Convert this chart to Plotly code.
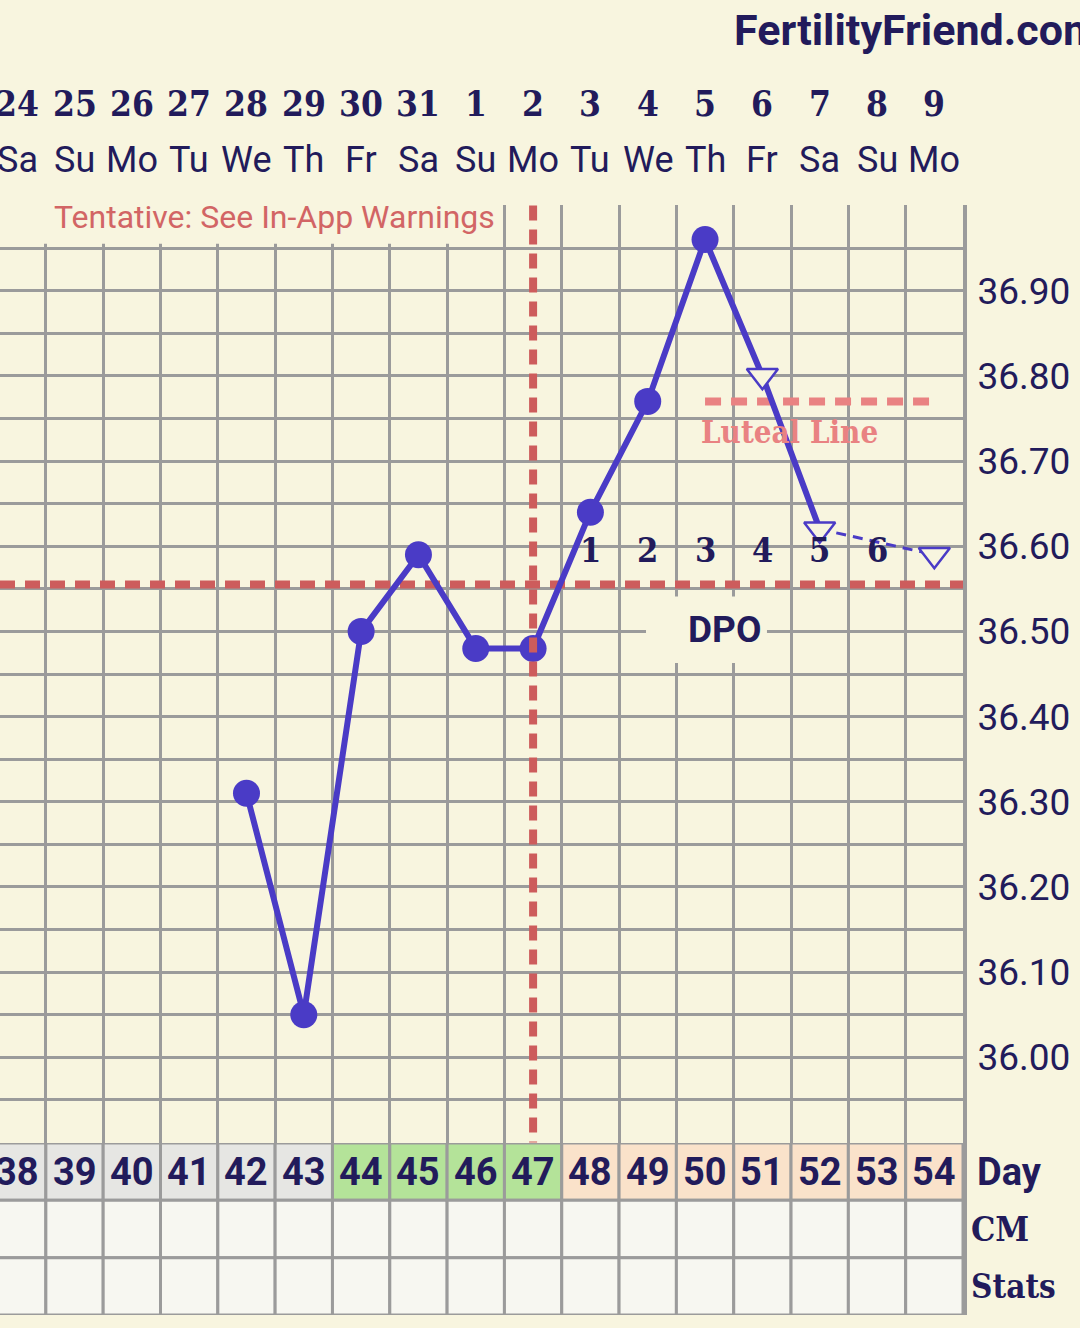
import plotly.graph_objects as go

# ---------------- data ----------------
cycle_days = [38, 39, 40, 41, 42, 43, 44, 45, 46, 47, 48, 49, 50, 51, 52, 53, 54]
dates = ["24", "25", "26", "27", "28", "29", "30", "31", "1", "2", "3", "4", "5", "6", "7", "8", "9"]
weekdays = ["Sa", "Su", "Mo", "Tu", "We", "Th", "Fr", "Sa", "Su", "Mo", "Tu", "We", "Th", "Fr", "Sa", "Su", "Mo"]
day_phase = ["none"] * 6 + ["fertile"] * 4 + ["luteal"] * 7

solid_days = [42, 43, 44, 45, 46, 47, 48, 49, 50]
solid_temps = [36.31, 36.05, 36.50, 36.59, 36.48, 36.48, 36.64, 36.77, 36.96]
open_days = [51, 52, 54]
open_temps = [36.80, 36.62, 36.59]

coverline_temp = 36.555
ovulation_day = 47
luteal_temp = 36.77
luteal_days = [50, 54]
dpo_days = [48, 49, 50, 51, 52, 53]
dpo_labels = ["1", "2", "3", "4", "5", "6"]

y_label_vals = [36.0, 36.1, 36.2, 36.3, 36.4, 36.5, 36.6, 36.7, 36.8, 36.9]
y_label_text = ["36.00", "36.10", "36.20", "36.30", "36.40", "36.50", "36.60", "36.70", "36.80", "36.90"]
table_rows = ["Day", "CM", "Stats"]

# ---------------- style ----------------
BG = "#f8f5df"
NAVY = "#221b5b"
BLUE = "#4a3bc6"
GRID = "#9b9b9b"
RED = "#cd5c5c"
SALMON = "#e98282"
PHASE_COL = {"none": "#e6e6e3", "fertile": "#b4e399", "luteal": "#fae2ca"}
CELL = "#f7f7f1"
SLAB = "DejaVu Serif Condensed, DejaVu Serif, serif"

X_LEFT, X_RIGHT = 37.70, 54.5
Y_BOT, Y_TOP = 35.8995, 37.0005

# grid values every 0.05
y_grid_vals = [round(35.90 + 0.05 * i, 2) for i in range(23)]
y_grid_text = []
for v in y_grid_vals:
    t = ""
    for lv, lt in zip(y_label_vals, y_label_text):
        if abs(lv - v) < 1e-6:
            t = lt
    y_grid_text.append(t)

fig = go.Figure()

# coverline (under data)
fig.add_trace(go.Scatter(x=[X_LEFT, X_RIGHT], y=[coverline_temp, coverline_temp], mode="lines",
                         line=dict(color=RED, width=8, dash="15px,10px"), hoverinfo="skip", showlegend=False))
# luteal line
fig.add_trace(go.Scatter(x=luteal_days, y=[luteal_temp, luteal_temp], mode="lines",
                         line=dict(color=SALMON, width=8, dash="16px,10px"), hoverinfo="skip", showlegend=False))
# solid temperature line (42 -> 52)
line_x = solid_days + open_days[:2]
line_y = solid_temps + open_temps[:2]
fig.add_trace(go.Scatter(x=line_x, y=line_y, mode="lines", line=dict(color=BLUE, width=6),
                         hoverinfo="skip", showlegend=False))
# dashed gap line (52 -> 54)
fig.add_trace(go.Scatter(x=open_days[1:], y=open_temps[1:], mode="lines",
                         line=dict(color=BLUE, width=3, dash="10px,7px"), hoverinfo="skip", showlegend=False))
# filled circles
fig.add_trace(go.Scatter(x=solid_days, y=solid_temps, mode="markers",
                         marker=dict(color=BLUE, size=27, line=dict(width=0)), showlegend=False))
# open triangles
fig.add_trace(go.Scatter(x=open_days, y=open_temps, mode="markers",
                         marker=dict(symbol="triangle-down", color=BG, size=27,
                                     line=dict(color=BLUE, width=2.5)), showlegend=False))
# ovulation vertical line (drawn on top)
fig.add_trace(go.Scatter(x=[ovulation_day, ovulation_day], y=[37.0, 35.90], mode="lines",
                         line=dict(color=RED, width=8, dash="15px,9px"), hoverinfo="skip", showlegend=False))

shapes = []
# cover area behind "Tentative" text (hides grid there)
shapes.append(dict(type="rect", xref="x", yref="y", x0=X_LEFT - 1, x1=46.45, y0=36.955, y1=37.05,
                   fillcolor=BG, line=dict(width=0), layer="above"))
# DPO box
shapes.append(dict(type="rect", xref="x", yref="y", x0=48.97, x1=51.08, y0=36.463, y1=36.541,
                   fillcolor=BG, line=dict(width=0), layer="above"))
# table cells
for i, d in enumerate(cycle_days):
    for r in range(len(table_rows)):
        fill = PHASE_COL[day_phase[i]] if r == 0 else CELL
        shapes.append(dict(type="rect", xref="x", yref="y2", x0=d - 0.5, x1=d + 0.5, y0=r, y1=r + 1,
                           fillcolor=fill, line=dict(color=GRID, width=3), layer="above"))

ann = []
# header: brand
ann.append(dict(xref="paper", yref="paper", x=0.7600, y=1.158, xanchor="left", yanchor="middle",
                text="<b>FertilityFriend.com</b>", showarrow=False,
                font=dict(family="Roboto", size=43, color=NAVY)))
for d, dt, wd in zip(cycle_days, dates, weekdays):
    ann.append(dict(xref="x", yref="paper", x=d, y=1.091, text="<b>%s</b>" % dt, showarrow=False,
                    xanchor="center", yanchor="middle", font=dict(family=SLAB, size=35, color=NAVY)))
    ann.append(dict(xref="x", yref="paper", x=d, y=1.0405, text=wd, showarrow=False,
                    xanchor="center", yanchor="middle", font=dict(family="Roboto", size=36, color=NAVY)))
# tentative
ann.append(dict(xref="x", yref="y", x=46.37, y=36.987, xanchor="right", yanchor="middle",
                text="Tentative: See In-App Warnings", showarrow=False,
                font=dict(family="Roboto", size=32, color="#d26565")))
# luteal label
ann.append(dict(xref="x", yref="y", x=51.48, y=36.734, text="<b>Luteal Line</b>", showarrow=False,
                xanchor="center", yanchor="middle", font=dict(family=SLAB, size=31, color=SALMON)))
# DPO numbers
for d, lab in zip(dpo_days, dpo_labels):
    ann.append(dict(xref="x", yref="y", x=d, y=36.595, text="<b>%s</b>" % lab, showarrow=False,
                    xanchor="center", yanchor="middle", font=dict(family=SLAB, size=34, color=NAVY)))
ann.append(dict(xref="x", yref="y", x=50.34, y=36.502, text="<b>DPO</b>", showarrow=False,
                xanchor="center", yanchor="middle", font=dict(family="Roboto", size=37, color=NAVY)))
# table day numbers
for d in cycle_days:
    ann.append(dict(xref="x", yref="y2", x=d, y=0.5, text="<b>%d</b>" % d, showarrow=False,
                    xanchor="center", yanchor="middle",
                    font=dict(family="Roboto", size=38, color=NAVY)))
# row labels
row_fonts = [("Roboto", 38, 1.0125), (SLAB, 34, 1.0063), (SLAB, 33, 1.0063)]
for r, (lab, (fam, sz, xp)) in enumerate(zip(table_rows, row_fonts)):
    ann.append(dict(xref="paper", yref="y2", x=xp, y=r + 0.5, text="<b>%s</b>" % lab, showarrow=False,
                    xanchor="left", yanchor="middle", font=dict(family=fam, size=sz, color=NAVY)))

fig.update_layout(
    width=1080, height=1328,
    margin=dict(l=0, r=117, t=205, b=13, pad=0),
    paper_bgcolor=BG, plot_bgcolor=BG,
    showlegend=False,
    shapes=shapes, annotations=ann,
    xaxis=dict(range=[X_LEFT, X_RIGHT], tickmode="linear", tick0=37.5, dtick=1,
               showgrid=True, gridcolor=GRID, gridwidth=3, showticklabels=False, ticks="",
               zeroline=False, showline=False, anchor="y", fixedrange=True),
    yaxis=dict(range=[Y_BOT, Y_TOP], domain=[0.15495, 1.0], tickmode="array",
               tickvals=y_grid_vals, ticktext=y_grid_text, side="right", ticks="",
               ticklabelstandoff=3, tickfont=dict(family="Roboto", size=37, color=NAVY),
               showgrid=True, gridcolor=GRID, gridwidth=3, zeroline=False,
               showline=True, linecolor=GRID, linewidth=4, anchor="x", fixedrange=True),
    yaxis2=dict(range=[3, 0], domain=[0, 0.15495], showgrid=False, showticklabels=False,
                ticks="", zeroline=False, showline=True, linecolor=GRID, linewidth=4,
                side="right", anchor="x", fixedrange=True),
)

fig.write_html("out.html", config={"displayModeBar": False},
               post_script="document.body.style.margin='0';document.body.style.overflow='hidden';")
